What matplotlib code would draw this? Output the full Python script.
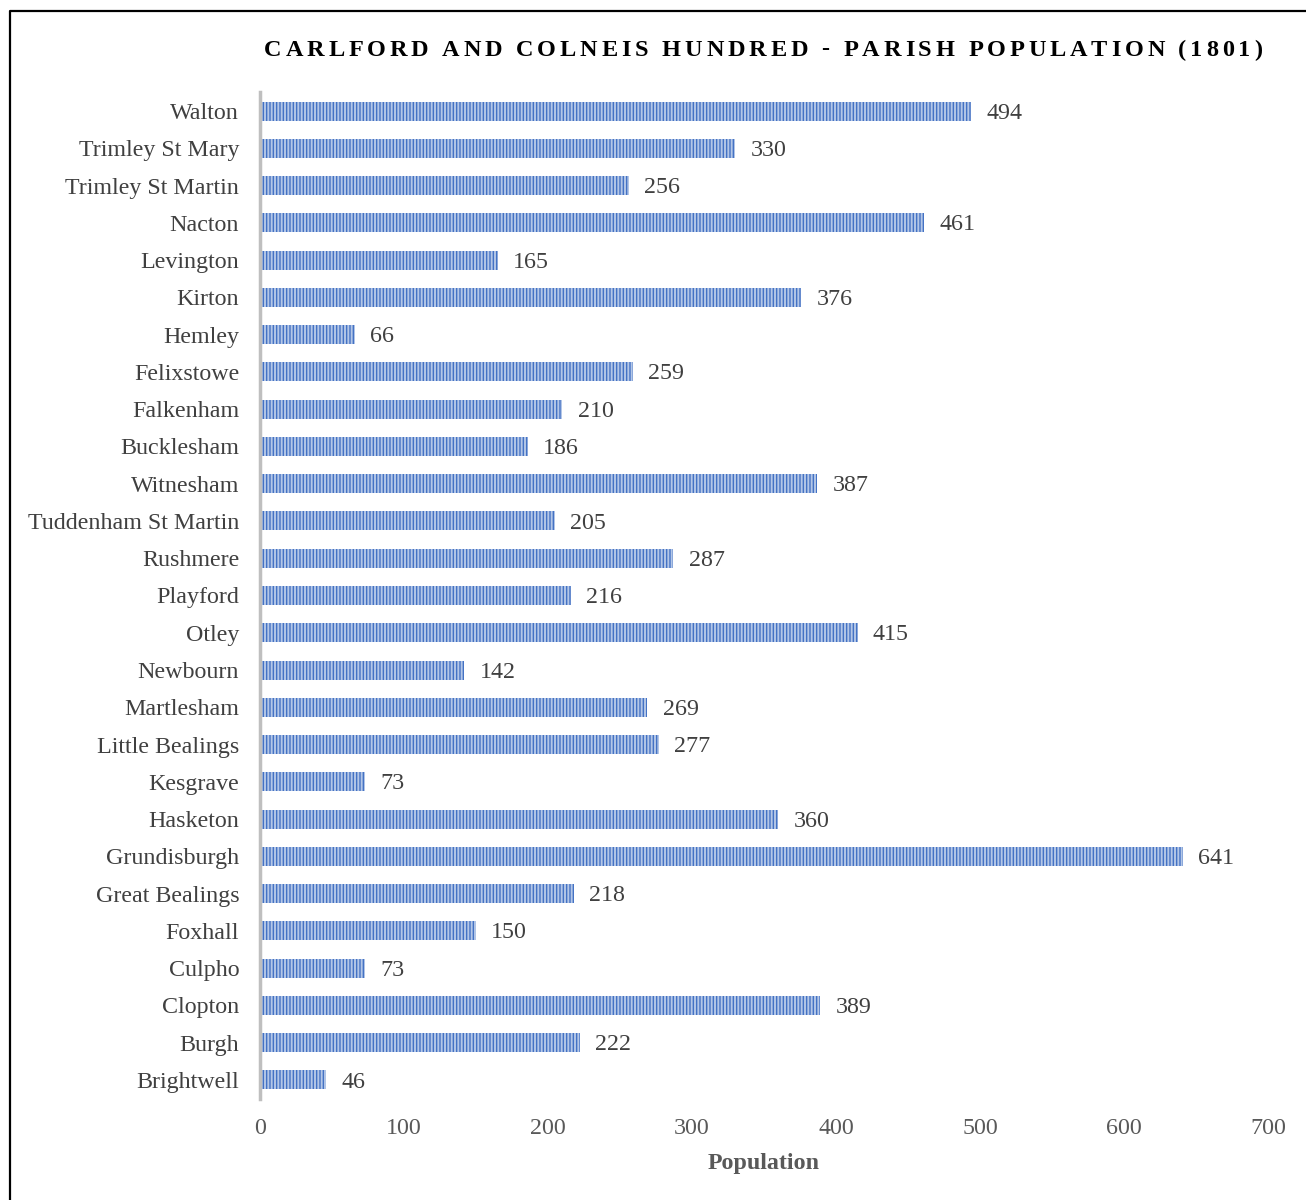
import numpy as np
import matplotlib
matplotlib.use('Agg')
import matplotlib.pyplot as plt
from matplotlib.lines import Line2D

parishes = ['Walton', 'Trimley St Mary', 'Trimley St Martin', 'Nacton', 'Levington',
            'Kirton', 'Hemley', 'Felixstowe', 'Falkenham', 'Bucklesham', 'Witnesham',
            'Tuddenham St Martin', 'Rushmere', 'Playford', 'Otley', 'Newbourn',
            'Martlesham', 'Little Bealings', 'Kesgrave', 'Hasketon', 'Grundisburgh',
            'Great Bealings', 'Foxhall', 'Culpho', 'Clopton', 'Burgh', 'Brightwell']
population = [494, 330, 256, 461, 165, 376, 66, 259, 210, 186, 387, 205, 287, 216,
              415, 142, 269, 277, 73, 360, 641, 218, 150, 73, 389, 222, 46]
xticks = [0, 100, 200, 300, 400, 500, 600, 700]
title = 'CARLFORD AND COLNEIS HUNDRED - PARISH POPULATION (1801)'

plt.rcParams['font.family'] = ['Liberation Serif', 'DejaVu Serif']
plt.rcParams['hatch.linewidth'] = 1.4

W, H = 1306, 1200
fs = 17.3
fig = plt.figure(figsize=(W / 100, H / 100), dpi=100)
ax = fig.add_axes([260 / W, 1 - 1098.6 / H, 1008 / W, (1098.6 - 92.4) / H])

ypos = np.arange(len(parishes))
ax.barh(ypos, population, height=0.51, color='#4472C4', edgecolor='#B4C7E7',
        linewidth=0, hatch='|||||')

for y, v in zip(ypos, population):
    ax.annotate(str(v), (v, y), xytext=(11, -1.5), textcoords='offset points',
                va='center', ha='left', fontsize=fs, color='#404040')

ax.set_ylim(len(parishes) - 0.5, -0.5)
ax.set_xlim(0, 700)
ax.set_yticks(ypos)
ax.set_yticklabels(parishes, fontsize=fs, color='#404040')
ax.set_xticks(xticks)
ax.set_xticklabels([str(t) for t in xticks], fontsize=fs, color='#595959')
ax.tick_params(axis='both', length=0)
ax.tick_params(axis='y', pad=15)
ax.tick_params(axis='x', pad=14)
for s in ['top', 'right', 'bottom']:
    ax.spines[s].set_visible(False)
ax.spines['left'].set_color('#BFBFBF')
ax.spines['left'].set_linewidth(2.5)
ax.set_xlabel('Population', fontsize=fs, fontweight='bold', color='#595959', labelpad=10)

# letter-spaced title
renderer = fig.canvas.get_renderer()
tfs = 17.5
widths = []
for ch in title:
    if ch == ' ':
        widths.append(None)
        continue
    t = fig.text(0, 0, ch, fontsize=tfs, fontweight='bold')
    widths.append(t.get_window_extent(renderer).width)
    t.remove()
space_w = 6.0
widths = [space_w if w is None else w for w in widths]
x0, x1 = 264, 1262
gap = (x1 - x0 - sum(widths)) / (len(title) - 1)
x = x0
for ch, w in zip(title, widths):
    if ch != ' ':
        fig.text(x / W, 1 - 50 / H, ch, fontsize=tfs, fontweight='bold',
                 color='black', ha='left', va='center')
    x += w + gap

# frame
fig.add_artist(Line2D([10 / W, 10 / W, 1], [0, 1 - 11 / H, 1 - 11 / H],
                      color='black', linewidth=1.6, transform=fig.transFigure))

fig.savefig('out.png', dpi=100)
